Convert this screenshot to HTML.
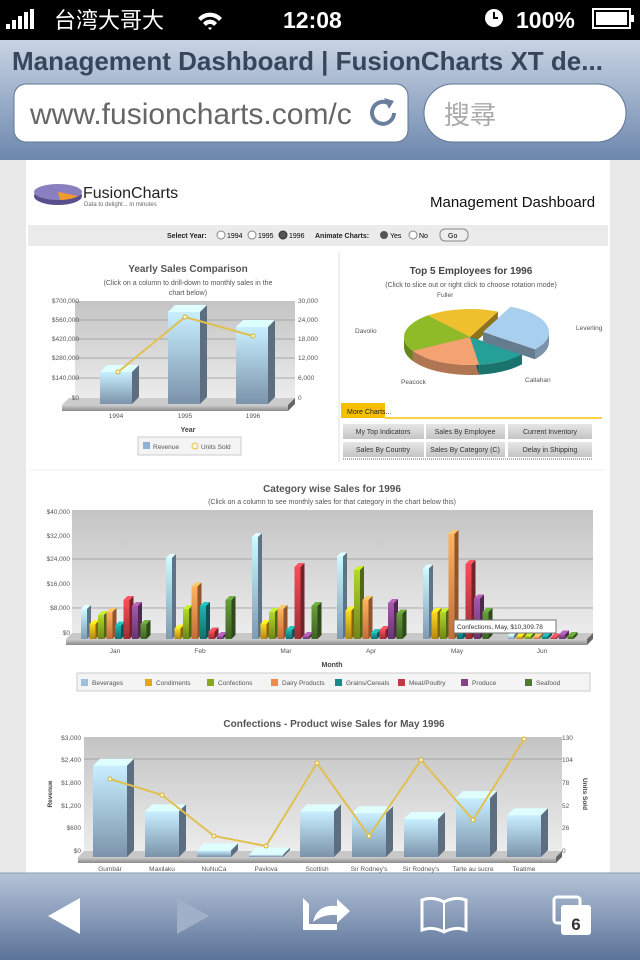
<!DOCTYPE html>
<html><head><meta charset="utf-8">
<style>
html,body{margin:0;padding:0;width:640px;height:960px;overflow:hidden;background:#e9e9e9}
svg{display:block}
text{font-family:"Liberation Sans","Noto Sans CJK TC",sans-serif}
</style></head><body>
<svg id="s" width="640" height="960" viewBox="0 0 640 960" xmlns="http://www.w3.org/2000/svg">
<defs>
<linearGradient id="hdr" x1="0" y1="0" x2="0" y2="1"><stop offset="0" stop-color="#c9d4e3"/><stop offset="1" stop-color="#6c87ad"/></linearGradient>
<linearGradient id="tb" x1="0" y1="0" x2="0" y2="1"><stop offset="0" stop-color="#b5c3d7"/><stop offset="1" stop-color="#5b7399"/></linearGradient>
<linearGradient id="plot" x1="0" y1="0" x2="0" y2="1"><stop offset="0" stop-color="#c4c4c4"/><stop offset="1" stop-color="#ececec"/></linearGradient>
<linearGradient id="btn" x1="0" y1="0" x2="0" y2="1"><stop offset="0" stop-color="#e6e6e6"/><stop offset="1" stop-color="#c4c4c4"/></linearGradient>
<linearGradient id="floor" x1="0" y1="0" x2="0" y2="1"><stop offset="0" stop-color="#d0d0d0"/><stop offset="1" stop-color="#8a8a8a"/></linearGradient>
</defs>
<rect x="0" y="0" width="640" height="40" fill="#000"/>
<g fill="#fff"><rect x="6" y="24" width="4" height="5"/><rect x="12" y="20" width="4" height="9"/><rect x="18" y="16" width="4" height="13"/><rect x="24" y="12" width="4" height="17"/><rect x="30" y="9" width="4" height="20"/></g>
<text x="54" y="28" fill="#fff" font-size="22">台湾大哥大</text>
<path d="M198 18 a16 16 0 0 1 24 0 l-3 3 a12 12 0 0 0 -18 0z M203 23 a9 9 0 0 1 14 0 l-3 3 a5 5 0 0 0 -8 0z M208 28 l2 2 2 -2 a3 3 0 0 0 -4 0z" fill="#fff"/>
<text x="283" y="28" fill="#fff" font-size="23" font-weight="bold">12:08</text>
<circle cx="494" cy="18" r="9" fill="#fff"/><path d="M494 12 v6 h4" stroke="#000" stroke-width="2" fill="none"/>
<text x="516" y="28" fill="#fff" font-size="23" font-weight="bold">100%</text>
<rect x="593" y="9" width="37" height="19" fill="none" stroke="#fff" stroke-width="2"/><rect x="596" y="12" width="31" height="13" fill="#fff"/><rect x="631" y="15" width="3" height="7" fill="#fff"/>
<rect x="0" y="40" width="640" height="120" fill="url(#hdr)"/>
<text x="12" y="70" fill="#37465a" font-size="26" font-weight="bold">Management Dashboard | FusionCharts XT de...</text>
<rect x="14" y="84" width="394" height="58" rx="12" fill="#fff" stroke="#5f7596"/>
<text x="30" y="124" fill="#666" font-size="30">www.fusioncharts.com/c</text>
<path d="M388 103 a11 11 0 1 0 6 10" stroke="#6a7f9c" stroke-width="4" fill="none"/><path d="M384 98 l10 3 -5 8z" fill="#6a7f9c"/>
<rect x="424" y="84" width="202" height="58" rx="29" fill="#fff" stroke="#5f7596"/>
<text x="444" y="124" fill="#aaa" font-size="26">搜尋</text>
<rect x="0" y="160" width="640" height="715" fill="#e9e9e9"/>
<rect x="26" y="160" width="584" height="715" fill="#fff"/>
<ellipse cx="58" cy="196" rx="24" ry="9" fill="#5a4f8c"/><ellipse cx="58" cy="192" rx="24" ry="8" fill="#8a80bf"/><path d="M58 192 l20 4 a24 8 0 0 1 -18 4z" fill="#f29a2a"/>
<text x="83" y="198" font-size="16" fill="#222">FusionCharts</text>
<text x="84" y="206" font-size="6" fill="#666">Data to delight... in minutes</text>
<text x="430" y="207" font-size="15" fill="#111">Management Dashboard</text>
<rect x="28" y="225" width="580" height="21" fill="#ebebeb"/>
<text x="167" y="238" font-size="7" font-weight="bold" fill="#222">Select Year:</text>
<circle cx="221" cy="235" r="4" fill="#fff" stroke="#888"/><text x="227" y="238" font-size="7">1994</text>
<circle cx="252" cy="235" r="4" fill="#fff" stroke="#888"/><text x="258" y="238" font-size="7">1995</text>
<circle cx="283" cy="235" r="4" fill="#555" stroke="#333"/><text x="289" y="238" font-size="7">1996</text>
<text x="315" y="238" font-size="7" font-weight="bold" fill="#222">Animate Charts:</text>
<circle cx="384" cy="235" r="4" fill="#555"/><text x="390" y="238" font-size="7">Yes</text>
<circle cx="413" cy="235" r="4" fill="#fff" stroke="#888"/><text x="419" y="238" font-size="7">No</text>
<rect x="440" y="229" width="28" height="12" rx="5" fill="#eee" stroke="#888"/><text x="448" y="238" font-size="7">Go</text>
<line x1="339" y1="252" x2="339" y2="462" stroke="#e2e2e2"/>
<text x="188" y="272" font-size="10" font-weight="bold" fill="#555" text-anchor="middle">Yearly Sales Comparison</text>
<text x="188" y="285" font-size="7" fill="#555" text-anchor="middle">(Click on a column to drill-down to monthly sales in the</text>
<text x="188" y="295" font-size="7" fill="#555" text-anchor="middle">chart below)</text>
<rect x="75" y="301" width="220" height="97" fill="url(#plot)"/>
<g stroke="#999" stroke-width="0.8"><line x1="75" y1="320" x2="295" y2="320"/><line x1="75" y1="339" x2="295" y2="339"/><line x1="75" y1="358" x2="295" y2="358"/><line x1="75" y1="378" x2="295" y2="378"/></g>
<polygon points="69,398 295,398 288,405 62,405" fill="#ccc"/><rect x="62" y="405" width="226" height="6" fill="url(#floor)"/><polygon points="288,405 295,398 295,404 288,411" fill="#666"/>
<g font-size="6.5" fill="#555" text-anchor="end"><text x="79" y="303">$700,000</text><text x="79" y="322">$560,000</text><text x="79" y="341">$420,000</text><text x="79" y="360">$280,000</text><text x="79" y="380">$140,000</text><text x="79" y="400">$0</text></g>
<g font-size="6.5" fill="#555"><text x="298" y="303">30,000</text><text x="298" y="322">24,000</text><text x="298" y="341">18,000</text><text x="298" y="360">12,000</text><text x="298" y="380">6,000</text><text x="298" y="400">0</text></g>
<g id="c1"></g>
<polyline points="118,372 185,317 253,336" fill="none" stroke="#e0c050" stroke-width="2"/>
<g fill="#fff8d0" stroke="#d8b030"><circle cx="118" cy="372" r="2"/><circle cx="185" cy="317" r="2"/><circle cx="253" cy="336" r="2"/></g>
<g font-size="6.5" fill="#555" text-anchor="middle"><text x="116" y="418">1994</text><text x="185" y="418">1995</text><text x="253" y="418">1996</text></g>
<text x="188" y="432" font-size="7" font-weight="bold" fill="#444" text-anchor="middle">Year</text>
<rect x="138" y="437" width="103" height="18" fill="#f4f4f4" stroke="#ccc"/>
<rect x="143" y="442" width="7" height="7" fill="#8fb1d3"/><text x="153" y="449" font-size="6.5" fill="#555">Revenue</text>
<circle cx="195" cy="446" r="3" fill="none" stroke="#e8c040"/><text x="201" y="449" font-size="6.5" fill="#555">Units Sold</text>
<text x="471" y="274" font-size="10" font-weight="bold" fill="#444" text-anchor="middle">Top 5 Employees for 1996</text>
<text x="471" y="287" font-size="7" fill="#555" text-anchor="middle">(Click to slice out or right click to choose rotation mode)</text>
<g id="pie"></g>
<g font-size="6.5" fill="#555"><text x="437" y="297">Fuller</text><text x="355" y="333">Davolio</text><text x="576" y="330">Leverling</text><text x="401" y="384">Peacock</text><text x="525" y="382">Callahan</text></g>
<rect x="341" y="403" width="44" height="15" fill="#f6c000"/><text x="347" y="414" font-size="7" fill="#222">More Charts...</text>
<line x1="385" y1="418" x2="602" y2="418" stroke="#f6c000" stroke-width="1.5"/>
<g font-size="7" fill="#333" text-anchor="middle">
<rect x="343" y="424" width="81" height="15" fill="url(#btn)"/><text x="383" y="434">My Top Indicators</text>
<rect x="426" y="424" width="79" height="15" fill="url(#btn)"/><text x="465" y="434">Sales By Employee</text>
<rect x="508" y="424" width="84" height="15" fill="url(#btn)"/><text x="550" y="434">Current Inventory</text>
<rect x="343" y="442" width="81" height="15" fill="url(#btn)"/><text x="383" y="452">Sales By Country</text>
<rect x="426" y="442" width="79" height="15" fill="url(#btn)"/><text x="465" y="452">Sales By Category (C)</text>
<rect x="508" y="442" width="84" height="15" fill="url(#btn)"/><text x="550" y="452">Delay in Shipping</text>
</g>
<line x1="343" y1="459" x2="592" y2="459" stroke="#666" stroke-dasharray="1,1"/>
<line x1="30" y1="470" x2="606" y2="470" stroke="#eee"/>
<text x="332" y="492" font-size="10" font-weight="bold" fill="#555" text-anchor="middle">Category wise Sales for 1996</text>
<text x="332" y="504" font-size="7" fill="#555" text-anchor="middle">(Click on a column to see monthly sales for that category in the chart below this)</text>
<rect x="72" y="510" width="521" height="123" fill="url(#plot)"/>
<g stroke="#999" stroke-width="0.8"><line x1="72" y1="559" x2="593" y2="559"/><line x1="72" y1="608" x2="593" y2="608"/></g>
<polygon points="72,633 593,633 587,639 66,639" fill="#c8c8c8"/><rect x="66" y="639" width="521" height="6" fill="url(#floor)"/><polygon points="587,639 593,633 593,639 587,645" fill="#666"/>
<g font-size="6.5" fill="#555" text-anchor="end"><text x="70" y="514">$40,000</text><text x="70" y="538">$32,000</text><text x="70" y="561">$24,000</text><text x="70" y="586">$16,000</text><text x="70" y="610">$8,000</text><text x="70" y="635">$0</text></g>
<g id="c3"></g>
<rect x="454" y="620" width="102" height="13" fill="#fff" stroke="#777"/><text x="457" y="629" font-size="6.5" fill="#333">Confections, May, $10,309.78</text>
<g font-size="6.5" fill="#555" text-anchor="middle"><text x="115" y="653">Jan</text><text x="200" y="653">Feb</text><text x="286" y="653">Mar</text><text x="371" y="653">Apr</text><text x="457" y="653">May</text><text x="542" y="653">Jun</text></g>
<text x="332" y="667" font-size="7" font-weight="bold" fill="#444" text-anchor="middle">Month</text>
<rect x="77" y="673" width="513" height="18" fill="#f4f4f4" stroke="#ccc"/>
<g font-size="6.5" fill="#555">
<rect x="81" y="679" width="7" height="7" fill="#9cc0e0"/><text x="92" y="685">Beverages</text>
<rect x="145" y="679" width="7" height="7" fill="#e0a818"/><text x="156" y="685">Condiments</text>
<rect x="207" y="679" width="7" height="7" fill="#88a820"/><text x="218" y="685">Confections</text>
<rect x="271" y="679" width="7" height="7" fill="#f08a48"/><text x="282" y="685">Dairy Products</text>
<rect x="335" y="679" width="7" height="7" fill="#168a88"/><text x="346" y="685">Grains/Cereals</text>
<rect x="398" y="679" width="7" height="7" fill="#c23a44"/><text x="409" y="685">Meat/Poultry</text>
<rect x="461" y="679" width="7" height="7" fill="#804484"/><text x="472" y="685">Produce</text>
<rect x="525" y="679" width="7" height="7" fill="#4e7a2c"/><text x="536" y="685">Seafood</text>
</g>
<text x="334" y="727" font-size="10" font-weight="bold" fill="#555" text-anchor="middle">Confections - Product wise Sales for May 1996</text>
<rect x="84" y="737" width="478" height="114" fill="url(#plot)"/>
<line x1="84" y1="759" x2="562" y2="759" stroke="#999" stroke-width="0.8"/>
<polygon points="84,851 562,851 556,857 78,857" fill="#c8c8c8"/><rect x="78" y="857" width="478" height="6" fill="url(#floor)"/><polygon points="556,857 562,851 562,857 556,863" fill="#666"/>
<g font-size="6.5" fill="#555" text-anchor="end"><text x="81" y="740">$3,000</text><text x="81" y="762">$2,400</text><text x="81" y="785">$1,800</text><text x="81" y="808">$1,200</text><text x="81" y="830">$600</text><text x="81" y="853">$0</text></g>
<g font-size="6.5" fill="#555"><text x="562" y="740">130</text><text x="562" y="762">104</text><text x="562" y="785">78</text><text x="562" y="808">52</text><text x="562" y="830">26</text><text x="562" y="853">0</text></g>
<text transform="translate(52,794) rotate(-90)" font-size="6.5" font-weight="bold" fill="#444" text-anchor="middle">Revenue</text>
<text transform="translate(583,794) rotate(90)" font-size="6.5" font-weight="bold" fill="#444" text-anchor="middle">Units Sold</text>
<g id="c4"></g>
<polyline points="110,779 162,795 214,836 266,846 317,763 369,836 421,760 473,820 524,739" fill="none" stroke="#e0c050" stroke-width="2"/>
<g id="c4p" fill="#fff8d0" stroke="#d8b030"></g>
<g font-size="6.5" fill="#555" text-anchor="middle"><text x="110" y="871">Gumbär</text><text x="162" y="871">Maxilaku</text><text x="214" y="871">NuNuCa</text><text x="266" y="871">Pavlova</text><text x="317" y="871">Scottish</text><text x="369" y="871">Sir Rodney's</text><text x="421" y="871">Sir Rodney's</text><text x="473" y="871">Tarte au sucre</text><text x="524" y="871">Teatime</text></g>
<rect x="0" y="873" width="640" height="87" fill="url(#tb)"/>
<line x1="0" y1="873" x2="640" y2="873" stroke="#8a9ab0"/>
<polygon points="48,916 80,898 80,934" fill="#fff"/>
<polygon points="209,916 177,898 177,934" fill="#9fb0c8"/>
<path d="M303 898 v32 h34 v-6 h-28 v-20z" fill="#fff"/><path d="M313 922 q4 -18 24 -16 v-7 l13 12 -13 12 v-8 q-14 -1 -24 7z" fill="#fff"/>
<path d="M422 900 q11 -4 22 2 q11 -6 22 -2 v30 q-11 -4 -22 2 q-11 -6 -22 -2z" fill="none" stroke="#fff" stroke-width="3"/><line x1="444" y1="902" x2="444" y2="930" stroke="#fff" stroke-width="2"/>
<rect x="554" y="897" width="26" height="26" rx="3" fill="none" stroke="#fff" stroke-width="3"/>
<rect x="561" y="905" width="30" height="30" rx="3" fill="#fff"/><text x="576" y="930" font-size="17" font-weight="bold" fill="#333" text-anchor="middle">6</text>
</svg>
<script>
(function(){
var NS="http://www.w3.org/2000/svg";
function el(p,t,a){var e=document.createElementNS(NS,t);for(var k in a)e.setAttribute(k,a[k]);p.appendChild(e);return e;}
function rgb(c){var n=parseInt(c.slice(1),16);return [n>>16,(n>>8)&255,n&255];}
function shade(c,f){var a=rgb(c);return "rgb("+a.map(function(v){return Math.min(255,Math.round(v*f));}).join(",")+")";}
var gid=0;
function bar(p,x,w,tp,base,d,c){
 var id="g"+(gid++);
 var lg=el(p,"linearGradient",{id:id,x1:0,y1:0,x2:0,y2:1});
 el(lg,"stop",{offset:0,"stop-color":shade(c,1.3)});el(lg,"stop",{offset:1,"stop-color":shade(c,0.8)});
 el(p,"rect",{x:x,y:tp,width:w,height:Math.max(0,base-tp),fill:"url(#"+id+")"});
 el(p,"polygon",{points:x+","+tp+" "+(x+d)+","+(tp-d)+" "+(x+w+d)+","+(tp-d)+" "+(x+w)+","+tp,fill:shade(c,1.45)});
 el(p,"polygon",{points:(x+w)+","+tp+" "+(x+w+d)+","+(tp-d)+" "+(x+w+d)+","+(base-d)+" "+(x+w)+","+base,fill:shade(c,0.6)});
}
var c1=document.getElementById("c1");
bar(c1,100,32,372,404,7,"#9ab8d4");bar(c1,168,32,312,404,7,"#9ab8d4");bar(c1,236,32,327,404,7,"#9ab8d4");
var c3=document.getElementById("c3");
var cols=["#9cc0e0","#e0a818","#88a820","#f08a48","#168a88","#c23a44","#804484","#4e7a2c"];
var data=[[10,5,8,9,4.5,13,11,5],[27,3.5,10,17.5,11,2.5,1,13],[34,5,9,10,3,24,1,11],[27.5,9.5,23,13,2,3,12,8.5],[23.5,9,9,35,4,25,13.5,9],[1.2,1,1,0.8,1,0.5,1.5,1]];
var mx=[115,200,286,371,457,542];
for(var m=0;m<6;m++)for(var i=0;i<8;i++){var v=data[m][i];var x=mx[m]-34+i*8.5;bar(c3,x,6,639-v*3.0,639,4,cols[i]);}
var c4=document.getElementById("c4");
var rev=[2400,1200,170,60,1200,1150,1000,1550,1100],cx=[110,162,214,266,317,369,421,473,524];
for(var j=0;j<9;j++)bar(c4,cx[j]-17,34,857-rev[j]*0.038,857,7,"#9ab8d4");
var ly=[779,795,836,846,763,836,760,820,739],pp=document.getElementById("c4p");
for(var j=0;j<9;j++)el(pp,"circle",{cx:cx[j],cy:ly[j],r:2});
var pie=document.getElementById("pie"),PX=470,PY=337,RX=66,RY=28,D=10;
var sl=[{a0:-65,a1:38,c:"#a9cfee",ox:13,oy:-5},{a0:38,a1:82,c:"#24a098"},{a0:82,a1:150,c:"#f4a272"},{a0:150,a1:230,c:"#8fbb28"},{a0:230,a1:295,c:"#eec02e"}];
function pt(x,y,a){var r=a*Math.PI/180;return [x+RX*Math.cos(r),y+RY*Math.sin(r)];}
function pieSide(s){var x=PX+(s.ox||0),y=PY+(s.oy||0);
 [s.a0,s.a1].forEach(function(a){var p=pt(x,y,a);
  el(pie,"path",{d:"M"+x+" "+y+" L"+p[0]+" "+p[1]+" L"+p[0]+" "+(p[1]+D)+" L"+x+" "+(y+D)+"z",fill:shade(s.c,0.6)});});
 var b0=Math.max(s.a0,0),b1=Math.min(s.a1,180);
 if(b1>b0){var p0=pt(x,y,b0),p1=pt(x,y,b1);
  var d="M"+p0[0]+" "+p0[1]+" A"+RX+" "+RY+" 0 0 1 "+p1[0]+" "+p1[1]+" L"+p1[0]+" "+(p1[1]+D)+" A"+RX+" "+RY+" 0 0 0 "+p0[0]+" "+(p0[1]+D)+"z";
  el(pie,"path",{d:d,fill:shade(s.c,0.72)});}
}
function pieTop(s){var x=PX+(s.ox||0),y=PY+(s.oy||0);var p0=pt(x,y,s.a0),p1=pt(x,y,s.a1);var lg=(s.a1-s.a0)>180?1:0;
 el(pie,"path",{d:"M"+x+" "+y+" L"+p0[0]+" "+p0[1]+" A"+RX+" "+RY+" 0 "+lg+" 1 "+p1[0]+" "+p1[1]+"z",fill:s.c});}
[4,3,2,1].forEach(function(i){pieSide(sl[i]);});
[4,3,2,1].forEach(function(i){pieTop(sl[i]);});
pieSide(sl[0]);pieTop(sl[0]);
})();
</script>
</body></html>
